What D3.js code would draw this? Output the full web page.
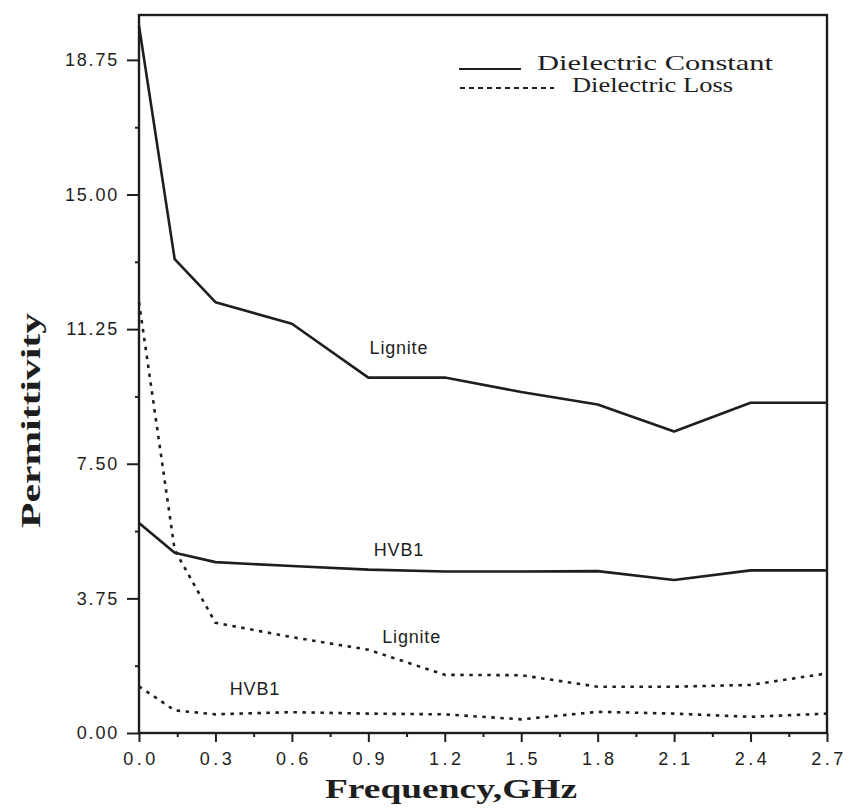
<!DOCTYPE html>
<html>
<head>
<meta charset="utf-8">
<script src="https://cdn.jsdelivr.net/npm/d3@7"></script>
<style>
  html, body { margin: 0; padding: 0; background: #fff; }
  svg { display: block; }
</style>
</head>
<body>
<svg id="chart" width="851" height="808"></svg>
<script>
// Frequency points (GHz)
const frequency = [0.0, 0.14, 0.3, 0.6, 0.9, 1.2, 1.5, 1.8, 2.1, 2.4, 2.7];

// Dielectric constant (solid lines)
const ligniteConstant = [19.7, 13.2, 12.0, 11.4, 9.9, 9.9, 9.5, 9.15, 8.4, 9.2, 9.2];
const hvb1Constant    = [5.85, 5.02, 4.76, 4.65, 4.55, 4.50, 4.50, 4.51, 4.26, 4.53, 4.53];

// Dielectric loss (dotted lines)
const ligniteLoss = [12.0, 5.1, 3.07, 2.67, 2.32, 1.62, 1.61, 1.29, 1.29, 1.34, 1.66];
const hvb1Loss    = [1.3, 0.63, 0.52, 0.58, 0.54, 0.52, 0.38, 0.59, 0.54, 0.45, 0.54];

// Axis ticks
const yTicks = [0, 3.75, 7.5, 11.25, 15, 18.75];
const yMinorTicks = [1.875, 5.625, 9.375, 13.125, 16.875];
const xTicks = [0, 0.3, 0.6, 0.9, 1.2, 1.5, 1.8, 2.1, 2.4, 2.7];
const xMinorTicks = [0.15, 0.45, 0.75, 1.05, 1.35, 1.65, 1.95, 2.25, 2.55];

// Curve labels placed at (frequency, value)
const curveLabels = [
  { text: "Lignite", f: 1.02, v: 10.72 },
  { text: "HVB1",    f: 1.02, v: 5.10 },
  { text: "Lignite", f: 1.07, v: 2.67 },
  { text: "HVB1",    f: 0.455, v: 1.23 }
];

const ink = "#1e1e1e";
const svg = d3.select("#chart");

const x = d3.scaleLinear().domain([0, 2.7]).range([139, 827]);
const y = d3.scaleLinear().domain([0, 20]).range([733, 15]);

// Frame
svg.append("rect")
  .attr("x", x(0)).attr("y", y(20))
  .attr("width", x(2.7) - x(0)).attr("height", y(0) - y(20))
  .attr("fill", "none").attr("stroke", ink).attr("stroke-width", 2.4);

// Y axis
const yAxis = svg.append("g")
  .attr("transform", `translate(${x(0)},0)`)
  .call(d3.axisLeft(y).tickValues(yTicks).tickFormat(d3.format(".2f")).tickSize(12).tickPadding(8));
svg.append("g")
  .attr("transform", `translate(${x(0)},0)`)
  .call(d3.axisLeft(y).tickValues(yMinorTicks).tickFormat("").tickSize(4));

// X axis
const xAxis = svg.append("g")
  .attr("transform", `translate(0,${y(0)})`)
  .call(d3.axisBottom(x).tickValues(xTicks).tickFormat(d3.format(".1f")).tickSize(9).tickPadding(10));
svg.append("g")
  .attr("transform", `translate(0,${y(0)})`)
  .call(d3.axisBottom(x).tickValues(xMinorTicks).tickFormat("").tickSize(4));

svg.selectAll(".domain").remove();
svg.selectAll(".tick line").attr("stroke", ink).attr("stroke-width", 2);
yAxis.selectAll(".tick text")
  .attr("fill", ink)
  .style("font-family", "'Liberation Sans', Arial, sans-serif")
  .style("font-size", "18px")
  .style("letter-spacing", "1.8px");
xAxis.selectAll(".tick text")
  .attr("fill", ink)
  .attr("dx", "1.5px")
  .style("font-family", "'Liberation Sans', Arial, sans-serif")
  .style("font-size", "18px")
  .style("letter-spacing", "3.5px");

// Lines
const line = d3.line().x((d, i) => x(frequency[i])).y(d => y(d));

function drawSeries(values, dotted) {
  svg.append("path")
    .datum(values)
    .attr("d", line)
    .attr("fill", "none")
    .attr("stroke", ink)
    .attr("stroke-width", 2.6)
    .attr("stroke-linejoin", "round")
    .attr("stroke-dasharray", dotted ? "3.5 5.5" : null);
}
drawSeries(ligniteConstant, false);
drawSeries(hvb1Constant, false);
drawSeries(ligniteLoss, true);
drawSeries(hvb1Loss, true);

// Curve labels
svg.selectAll(".curve-label")
  .data(curveLabels)
  .join("text")
  .attr("class", "curve-label")
  .attr("x", d => x(d.f))
  .attr("y", d => y(d.v))
  .attr("text-anchor", "middle")
  .attr("dominant-baseline", "central")
  .attr("fill", ink)
  .style("font-family", "'Liberation Sans', Arial, sans-serif")
  .style("font-size", "18px")
  .style("letter-spacing", "0.8px")
  .text(d => d.text);

// Legend
const legend = svg.append("g");
legend.append("line")
  .attr("x1", 459).attr("x2", 521).attr("y1", 69).attr("y2", 69)
  .attr("stroke", ink).attr("stroke-width", 2);
legend.append("line")
  .attr("x1", 460).attr("x2", 554).attr("y1", 88).attr("y2", 88)
  .attr("stroke", ink).attr("stroke-width", 1.8).attr("stroke-dasharray", "5 4");
legend.append("text")
  .attr("x", 537).attr("y", 70)
  .attr("textLength", 236).attr("lengthAdjust", "spacingAndGlyphs")
  .attr("fill", ink)
  .style("font-family", "'Liberation Serif', 'Times New Roman', serif")
  .style("font-size", "21px")
  .text("Dielectric Constant");
legend.append("text")
  .attr("x", 572).attr("y", 92)
  .attr("textLength", 161).attr("lengthAdjust", "spacingAndGlyphs")
  .attr("fill", ink)
  .style("font-family", "'Liberation Serif', 'Times New Roman', serif")
  .style("font-size", "21px")
  .text("Dielectric Loss");

// Axis titles
svg.append("text")
  .attr("x", 325).attr("y", 798)
  .attr("textLength", 252).attr("lengthAdjust", "spacingAndGlyphs")
  .attr("fill", ink)
  .style("font-family", "'Liberation Serif', 'Times New Roman', serif")
  .style("font-weight", "bold")
  .style("font-size", "28px")
  .text("Frequency,GHz");

svg.append("text")
  .attr("transform", "translate(40,528) rotate(-90)")
  .attr("textLength", 215).attr("lengthAdjust", "spacingAndGlyphs")
  .attr("fill", ink)
  .style("font-family", "'Liberation Serif', 'Times New Roman', serif")
  .style("font-weight", "bold")
  .style("font-size", "28px")
  .text("Permittivity");
</script>
</body>
</html>
